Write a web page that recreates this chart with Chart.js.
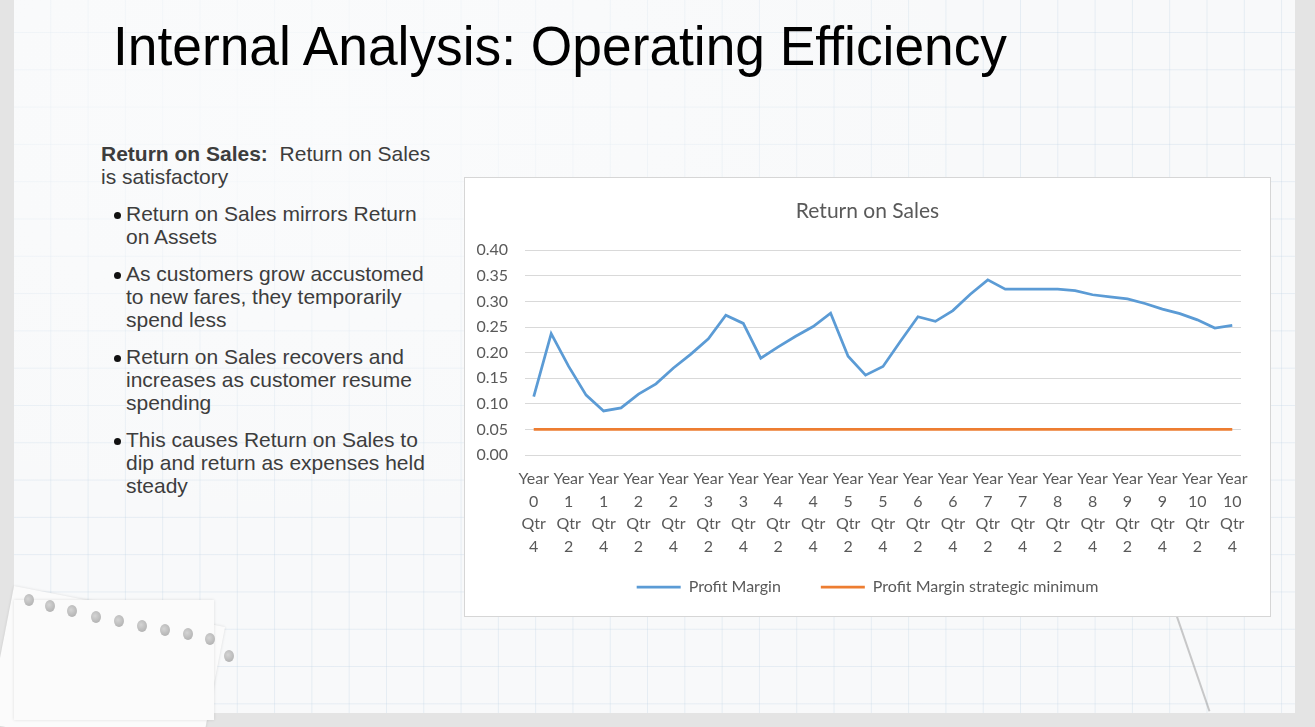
<!DOCTYPE html>
<html>
<head>
<meta charset="utf-8">
<script src="https://cdn.jsdelivr.net/npm/chart.js@4.4.1/dist/chart.umd.min.js"></script>
<style>
  html, body { margin: 0; padding: 0; }
  body { width: 1315px; height: 727px; background: #e4e4e4; position: relative; overflow: hidden; font-family: "Liberation Sans", Arial, sans-serif; }
  #slide { position: absolute; left: 14px; top: 0; width: 1281px; height: 713px; background-color: #f8f9fa;
    background-image:
      radial-gradient(ellipse 700px 420px at 300px 120px, rgba(250,251,252,0.95), rgba(250,251,252,0.0)),
      linear-gradient(to right, rgba(190,210,228,0.32) 1px, transparent 1px),
      linear-gradient(to bottom, rgba(190,210,228,0.32) 1px, transparent 1px);
    background-size: 100% 100%, 37.3px 37.3px, 37.3px 37.3px;
    background-position: 0 0, -1px 32px, -1px 32px;
    overflow: hidden; }
  #title { position: absolute; left: 113px; top: 18px; font-family: "Liberation Sans", Arial, sans-serif; font-size: 56px; line-height: 56px; color: #000; white-space: nowrap; transform-origin: 0 0; }
  #text { position: absolute; left: 101px; top: 142px; font-size: 21px; line-height: 23px; color: #3d3d3d; white-space: nowrap; }
  #text p { margin: 0; }
  .b { position: relative; padding-left: 25px; margin-top: 14px !important; }
  .b::before { content: ""; position: absolute; left: 13px; top: 10px; width: 7px; height: 7px; border-radius: 50%; background: #111; }
  #box { position: absolute; left: 464px; top: 177px; width: 807px; height: 440px; box-sizing: border-box; border: 1px solid #d6d6d6; background: #fff; overflow: hidden; }
  #box canvas { position: absolute; left: 0; top: 0; }
  .paper { position: absolute; background: #fbfbfb; box-shadow: 0 0 3px rgba(0,0,0,0.12); }
  .hole { position: absolute; width: 10px; height: 12px; border-radius: 50%; background: radial-gradient(circle at 40% 40%, #d4d4d4, #a9a9a9); }
  #curl { position: absolute; left: 1176px; top: 617px; width: 2px; height: 100px; background: rgba(150,150,150,0.5); transform-origin: 0 0; transform: rotate(-19deg); }
</style>
</head>
<body>
<div id="slide"></div>
<div class="paper" style="left:14px; top:586px; width:215px; height:140px; transform-origin:0 0; transform:rotate(11deg);"></div>
<div class="paper" style="left:14px; top:600px; width:200px; height:120px;"></div>
<div class="hole" style="left:24px;top:594px"></div>
<div class="hole" style="left:45px;top:600px"></div>
<div class="hole" style="left:67px;top:605px"></div>
<div class="hole" style="left:91px;top:611px"></div>
<div class="hole" style="left:114px;top:615px"></div>
<div class="hole" style="left:137px;top:620px"></div>
<div class="hole" style="left:160px;top:624px"></div>
<div class="hole" style="left:183px;top:628px"></div>
<div class="hole" style="left:205px;top:633px"></div>
<div class="hole" style="left:224px;top:650px"></div>
<div id="curl"></div>
<div id="title">Internal Analysis: Operating Efficiency</div>
<div id="text">
  <p><b>Return on Sales:</b>&nbsp; Return on Sales<br>is satisfactory</p>
  <p class="b">Return on Sales mirrors Return<br>on Assets</p>
  <p class="b">As customers grow accustomed<br>to new fares, they temporarily<br>spend less</p>
  <p class="b">Return on Sales recovers and<br>increases as customer resume<br>spending</p>
  <p class="b">This causes Return on Sales to<br>dip and return as expenses held<br>steady</p>
</div>
<div id="box"><canvas id="c" width="805" height="457" style="width:805px;height:457px"></canvas></div>
<script>
// fit the title to the reference width
(function(){
  var t = document.getElementById('title');
  var w = t.getBoundingClientRect().width;
  t.style.transform = 'scaleX(' + (894 / w) + ')';
})();

const categories = [
  "Year 0 Qtr 4",
  "Year 1 Qtr 1","Year 1 Qtr 2","Year 1 Qtr 3","Year 1 Qtr 4",
  "Year 2 Qtr 1","Year 2 Qtr 2","Year 2 Qtr 3","Year 2 Qtr 4",
  "Year 3 Qtr 1","Year 3 Qtr 2","Year 3 Qtr 3","Year 3 Qtr 4",
  "Year 4 Qtr 1","Year 4 Qtr 2","Year 4 Qtr 3","Year 4 Qtr 4",
  "Year 5 Qtr 1","Year 5 Qtr 2","Year 5 Qtr 3","Year 5 Qtr 4",
  "Year 6 Qtr 1","Year 6 Qtr 2","Year 6 Qtr 3","Year 6 Qtr 4",
  "Year 7 Qtr 1","Year 7 Qtr 2","Year 7 Qtr 3","Year 7 Qtr 4",
  "Year 8 Qtr 1","Year 8 Qtr 2","Year 8 Qtr 3","Year 8 Qtr 4",
  "Year 9 Qtr 1","Year 9 Qtr 2","Year 9 Qtr 3","Year 9 Qtr 4",
  "Year 10 Qtr 1","Year 10 Qtr 2","Year 10 Qtr 3","Year 10 Qtr 4"
];

const profitMargin = [
  0.114, 0.237, 0.173, 0.117, 0.086, 0.092, 0.119, 0.139, 0.170, 0.197,
  0.227, 0.273, 0.257, 0.189, 0.211, 0.232, 0.251, 0.277, 0.193, 0.156,
  0.173, 0.222, 0.270, 0.261, 0.282, 0.314, 0.342, 0.324, 0.324, 0.324,
  0.324, 0.321, 0.313, 0.309, 0.305, 0.296, 0.285, 0.276, 0.264, 0.248,
  0.253
];

const strategicMinimum = [
  0.05, 0.05, 0.05, 0.05, 0.05, 0.05, 0.05, 0.05, 0.05, 0.05,
  0.05, 0.05, 0.05, 0.05, 0.05, 0.05, 0.05, 0.05, 0.05, 0.05,
  0.05, 0.05, 0.05, 0.05, 0.05, 0.05, 0.05, 0.05, 0.05, 0.05,
  0.05, 0.05, 0.05, 0.05, 0.05, 0.05, 0.05, 0.05, 0.05, 0.05,
  0.05
];

const yTicks = [0.00, 0.05, 0.10, 0.15, 0.20, 0.25, 0.30, 0.35, 0.40];

const FONT = 'Lato, "Open Sans", sans-serif';
const GREY = '#595959';

// pull the legend up so it sits closer to the axis labels
const legendLift = {
  id: 'legendLift',
  afterLayout: function(chart) {
    const l = chart.legend;
    if (l) { l.top -= 19; l.bottom -= 19; }
  }
};

new Chart(document.getElementById('c'), {
  type: 'line',
  data: {
    labels: categories,
    datasets: [
      { label: 'Profit Margin', data: profitMargin, borderColor: '#5b9bd5', backgroundColor: '#5b9bd5',
        borderWidth: 2.75, pointRadius: 0, tension: 0, pointStyle: 'line' },
      { label: 'Profit Margin strategic minimum', data: strategicMinimum, borderColor: '#ed7d31', backgroundColor: '#ed7d31',
        borderWidth: 2.75, pointRadius: 0, tension: 0, pointStyle: 'line' }
    ]
  },
  plugins: [legendLift],
  options: {
    responsive: false,
    animation: false,
    devicePixelRatio: 1,
    layout: { padding: { left: 0, right: 0, top: 0, bottom: 11 } },
    plugins: {
      title: { display: true, text: 'Return on Sales', color: GREY,
        font: { family: FONT, size: 21, weight: 'normal' }, padding: { top: 21, bottom: 26 } },
      legend: { position: 'bottom',
        labels: { color: GREY, font: { family: FONT, size: 16 }, usePointStyle: true, pointStyle: 'line',
          pointStyleWidth: 44, boxHeight: 16, padding: 40 } },
      tooltip: { enabled: false }
    },
    scales: {
      x: {
        offset: true,
        afterFit: function(s) { s.height = 103; },
        grid: { display: false, drawTicks: false },
        border: { display: false },
        ticks: {
          autoSkip: false, maxRotation: 0, minRotation: 0, padding: 13,
          color: GREY, font: { family: FONT, size: 16, lineHeight: 1.4 },
          callback: function(v, i) { return i % 2 === 0 ? categories[i].split(' ') : null; }
        }
      },
      y: {
        min: yTicks[0], max: yTicks[yTicks.length - 1],
        afterBuildTicks: function(s) { s.ticks = yTicks.map(function(v){ return { value: v }; }); },
        afterFit: function(s) { s.width = 60; },
        grid: { color: '#d9d9d9', lineWidth: 1, drawTicks: false },
        border: { display: false },
        ticks: { padding: 17, color: GREY, font: { family: FONT, size: 16 },
          callback: function(v) { return Number(v).toFixed(2); } }
      },
      yRight: {
        position: 'right',
        display: true,
        afterFit: function(s) { s.width = 29; },
        grid: { display: false, drawTicks: false },
        border: { display: false },
        ticks: { display: false }
      }
    }
  }
});
</script>
</body>
</html>
